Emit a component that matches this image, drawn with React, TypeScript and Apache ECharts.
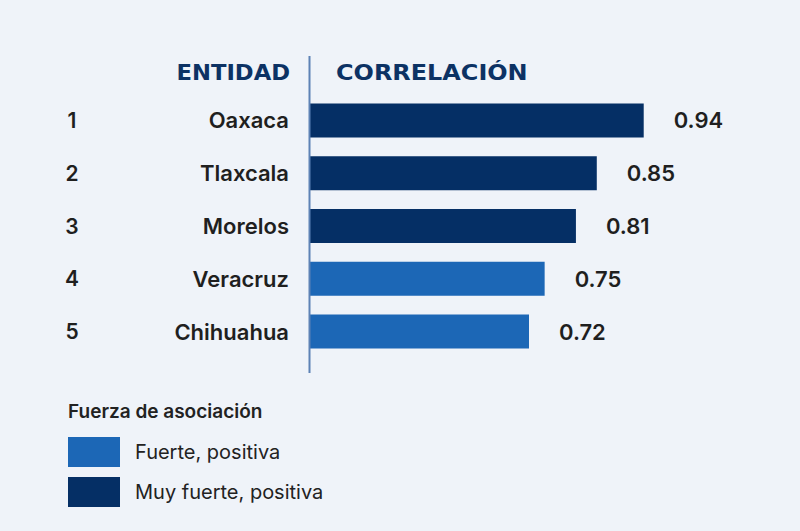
import React, { useEffect, useRef } from 'react';
import * as echarts from 'echarts';

const rangos = ['1', '2', '3', '4', '5'];
const entidades = ['Oaxaca', 'Tlaxcala', 'Morelos', 'Veracruz', 'Chihuahua'];
const correlaciones = [0.94, 0.85, 0.81, 0.75, 0.72];
// 0 = fuerte, 1 = muy fuerte
const fuerzaIdx = [1, 1, 1, 0, 0];
const nombresFuerza = ['Fuerte, positiva', 'Muy fuerte, positiva'];
const coloresFuerza = ['#1c67b6', '#052f65'];

const FONT = 'Inter, "Noto Sans", sans-serif';
const HEAD_FONT = '"DejaVu Sans", sans-serif';

const App: React.FC = () => {
  const chartRef = useRef<HTMLDivElement>(null);

  useEffect(() => {
    document.body.style.margin = '0';
    const myChart = echarts.init(chartRef.current, null, { renderer: 'svg' });

    const option = {
      animation: false,
      backgroundColor: '#eff3f9',
      title: {
        text: 'Fuerza de asociación',
        left: 68,
        top: 402,
        padding: 0,
        textStyle: { fontSize: 19, fontWeight: 600, color: '#222', fontFamily: FONT }
      },
      legend: {
        data: nombresFuerza,
        orient: 'vertical',
        left: 68,
        top: 437,
        padding: 0,
        icon: 'rect',
        itemWidth: 52,
        itemHeight: 30,
        itemGap: 10,
        selectedMode: false,
        textStyle: { fontSize: 20, color: '#222', fontFamily: FONT, padding: [0, 0, 0, 10] }
      },
      grid: { left: 310, top: 94, width: 365, height: 264 },
      xAxis: { type: 'value', min: 0.3, max: 1.0, show: false },
      yAxis: [
        {
          type: 'category',
          data: entidades,
          inverse: true,
          axisLine: { show: false },
          axisTick: { show: false },
          axisLabel: { margin: 21, fontSize: 22, fontWeight: 600, color: '#1f1f1f', fontFamily: FONT }
        },
        {
          type: 'category',
          data: rangos,
          inverse: true,
          position: 'left',
          axisLine: { show: false },
          axisTick: { show: false },
          axisLabel: { margin: 238, align: 'center', fontSize: 21, fontWeight: 600, color: '#1f1f1f', fontFamily: FONT }
        }
      ],
      graphic: [
        {
          type: 'line',
          shape: { x1: 309.5, y1: 56, x2: 309.5, y2: 373 },
          style: { stroke: '#5d82b5', lineWidth: 2 },
          z: 10
        },
        {
          type: 'text',
          x: 290,
          y: 73,
          scaleX: 1.08,
          style: {
            text: 'ENTIDAD',
            align: 'right',
            verticalAlign: 'middle',
            fontSize: 21,
            fontWeight: 'bold',
            fontFamily: HEAD_FONT,
            fill: '#0c3264'
          }
        },
        {
          type: 'text',
          x: 336,
          y: 73,
          scaleX: 1.14,
          style: {
            text: 'CORRELACIÓN',
            align: 'left',
            verticalAlign: 'middle',
            fontSize: 21,
            fontWeight: 'bold',
            fontFamily: HEAD_FONT,
            fill: '#0c3264'
          }
        }
      ],
      series: nombresFuerza.map((name, i) => ({
        name,
        type: 'bar',
        yAxisIndex: 0,
        barWidth: 34,
        barGap: '-100%',
        clip: true,
        itemStyle: { color: coloresFuerza[i] },
        label: {
          show: true,
          position: 'right',
          distance: 30,
          formatter: (p: any) => Number(p.value).toFixed(2),
          fontSize: 22,
          fontWeight: 600,
          color: '#1f1f1f',
          fontFamily: FONT
        },
        data: correlaciones.map((v, k) => (fuerzaIdx[k] === i ? v : '-'))
      }))
    };

    myChart.setOption(option);

    return () => {
      myChart.dispose();
    };
  }, []);

  return (
    <div
      ref={chartRef}
      style={{ position: 'absolute', left: 0, top: 0, width: '800px', height: '531px' }}
    ></div>
  );
};

export default App;
